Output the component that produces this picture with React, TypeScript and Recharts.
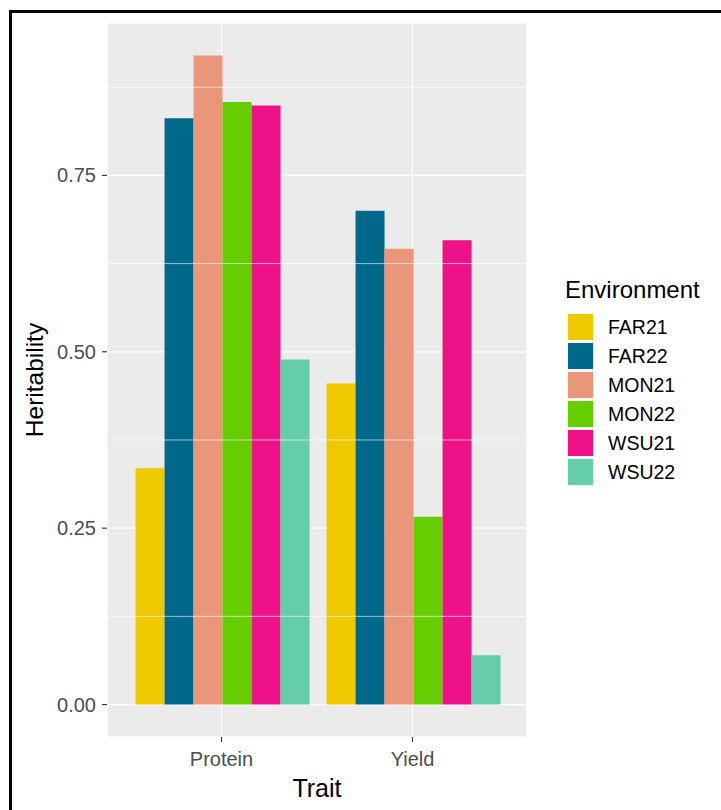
import React from "react";
import {
  BarChart,
  Bar,
  XAxis,
  YAxis,
  CartesianGrid,
  Legend,
  Label,
  ReferenceLine,
} from "recharts";

const traits = ["Protein", "Yield"];
const environments = ["FAR21", "FAR22", "MON21", "MON22", "WSU21", "WSU22"];
const envColors = ["#EEC900", "#00688B", "#E9967A", "#66CD00", "#EE1289", "#66CDAA"];

const far21 = [0.335, 0.455];
const far22 = [0.831, 0.7];
const mon21 = [0.92, 0.646];
const mon22 = [0.854, 0.266];
const wsu21 = [0.849, 0.658];
const wsu22 = [0.489, 0.07];

const yTicks = [0, 0.25, 0.5, 0.75];
const yMinorTicks = [0.125, 0.375, 0.625, 0.875];

const seriesValues = [far21, far22, mon21, mon22, wsu21, wsu22];

const data = traits.map((trait, i) => {
  const row: Record<string, string | number> = { trait };
  environments.forEach((env, j) => {
    row[env] = seriesValues[j][i];
  });
  return row;
});

const FONT = '"Liberation Sans", Arial, sans-serif';

function EnvLegend() {
  return (
    <div style={{ fontFamily: FONT, color: "#000" }}>
      <div style={{ fontSize: 24, lineHeight: "28px", whiteSpace: "nowrap" }}>Environment</div>
      <div style={{ marginTop: 8 }}>
        {environments.map((env, i) => (
          <div
            key={env}
            style={{ display: "flex", alignItems: "center", height: 29 }}
          >
            <div
              style={{
                marginLeft: 2,
                width: 27,
                height: 28,
                boxSizing: "border-box",
                border: "1px solid #F2F2F2",
                background: envColors[i],
              }}
            />
            <span style={{ marginLeft: 14, fontSize: 19.5, lineHeight: "28px" }}>{env}</span>
          </div>
        ))}
      </div>
    </div>
  );
}

function YTitle(props: any) {
  const vb = props.viewBox || { x: 0, y: 0, width: 0, height: 0 };
  const x = vb.x + 43;
  const y = vb.y + vb.height / 2;
  return (
    <text
      x={x}
      y={y}
      transform={`rotate(-90, ${x}, ${y})`}
      textAnchor="middle"
      fontSize={24.5}
      fill="#000"
      fontFamily={FONT}
    >
      Heritability
    </text>
  );
}

export default function App() {
  return (
    <div style={{ position: "absolute", left: 0, top: 0, width: 721, height: 810, background: "#fff", overflow: "hidden" }}>
      <div
        style={{
          position: "absolute",
          left: 9,
          top: 10,
          width: 760,
          height: 860,
          borderLeft: "3px solid #000",
          borderTop: "3px solid #000",
        }}
      />
      <div style={{ position: "absolute", left: 0, top: 0 }}>
        <BarChart
          width={721}
          height={810}
          data={data}
          margin={{ top: 23, right: 194, bottom: 0, left: 0 }}
          barCategoryGap="5%"
          barGap={0}
          style={{ fontFamily: FONT }}
        >
          <CartesianGrid fill="#EBEBEB" stroke="#FFFFFF" strokeWidth={1.2} />
          {yMinorTicks.map((v) => (
            <ReferenceLine key={v} y={v} stroke="#FFFFFF" strokeWidth={0.6} />
          ))}
          <XAxis
            dataKey="trait"
            height={73}
            padding={{ left: 19, right: 19 }}
            axisLine={false}
            tickSize={5}
            tickMargin={10}
            tickLine={{ stroke: "#333333", strokeWidth: 1.1 }}
            tick={{ fill: "#4D4D4D", fontSize: 20, fontFamily: FONT }}
          >
            <Label value="Trait" position="insideBottom" offset={13} fill="#000" fontSize={25} fontFamily={FONT} />
          </XAxis>
          <YAxis
            width={107}
            type="number"
            domain={[-0.046, 0.966]}
            ticks={yTicks}
            allowDataOverflow
            axisLine={false}
            tickSize={5}
            tickMargin={6}
            tickLine={{ stroke: "#333333", strokeWidth: 1.1 }}
            tick={{ fill: "#4D4D4D", fontSize: 20, fontFamily: FONT }}
            tickFormatter={(v: number) => v.toFixed(2)}
            label={<YTitle />}
          />
          <Legend
            layout="vertical"
            align="center"
            verticalAlign="middle"
            content={() => <EnvLegend />}
            wrapperStyle={{ left: 565, top: 276, width: 150 }}
          />
          {environments.map((env, i) => (
            <Bar key={env} dataKey={env} fill={envColors[i]} isAnimationActive={false} />
          ))}
        </BarChart>
      </div>
    </div>
  );
}
